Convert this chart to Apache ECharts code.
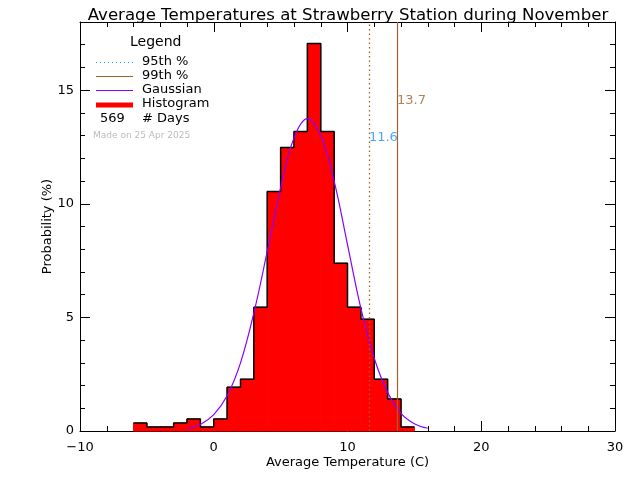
<!DOCTYPE html>
<html>
<head>
<meta charset="utf-8">
<script src="https://cdn.jsdelivr.net/npm/echarts@6/dist/echarts.min.js"></script>
<style>html,body{margin:0;padding:0;background:#fff}#c{width:640px;height:480px}</style>
</head>
<body>
<div id="c"></div>
<script>
// ---- data ----
const binStarts = [-6,-5,-4,-3,-2,-1,0,1,2,3,4,5,6,7,8,9,10,11,12,13,14];
const binWidth = 1;
const binPct = [0.35,0.18,0.18,0.35,0.53,0.18,0.53,1.93,2.28,5.45,10.54,12.48,13.18,17.05,13.18,7.38,5.45,4.92,2.28,1.41,0.18];
const gaussX = [-2,-1,0,1,2,3,4,5,6,7,8,9,10,11,12,13,14,15,16];
const gaussY = [0.11,0.29,0.72,1.55,3.0,5.2,7.9,10.7,12.9,13.75,13.0,11.0,8.2,5.4,3.2,1.7,0.78,0.32,0.12];
const p95 = 11.6;
const p99 = 13.7;
const nDays = 569;
const xTickLabels = [-10, 0, 10, 20, 30];
const yTickLabels = [0, 5, 10, 15];
const titleText = 'Average Temperatures at Strawberry Station during November';
const madeOn = 'Made on 25 Apr 2025';

const FONT = 'DejaVu Sans';
const BROWN = '#a0622a';
const BLUE = '#1e8fff';
const PURPLE = '#8a00ff';

const histData = binStarts.map((s, i) => [s, s + binWidth, binPct[i]]);
const outline = [];
binStarts.forEach((s, i) => { outline.push([s, binPct[i]]); outline.push([s + binWidth, binPct[i]]); });
const gauss = gaussX.map((x, i) => [x, gaussY[i]]);

const xMin = xTickLabels[0], xMax = xTickLabels[xTickLabels.length - 1];
const yMin = 0, yMax = 18;

const chart = echarts.init(document.getElementById('c'), null, {renderer: 'canvas'});

const baseX = {
  type: 'value', min: xMin, max: xMax, interval: 10,
  axisLine: {show: true, onZero: false, lineStyle: {color: '#000', width: 1}},
  axisTick: {show: true, inside: true, length: 10, lineStyle: {color: '#000'}},
  minorTick: {show: true, splitNumber: 5, length: 5, lineStyle: {color: '#000'}},
  splitLine: {show: false}
};
const baseY = {
  type: 'value', min: yMin, max: yMax, interval: 5,
  axisLine: {show: true, onZero: false, lineStyle: {color: '#000', width: 1}},
  axisTick: {show: true, inside: true, length: 10, lineStyle: {color: '#000'}},
  minorTick: {show: true, splitNumber: 5, length: 5, lineStyle: {color: '#000'}},
  splitLine: {show: false}
};

const legendRows = [
  {y: 62.5, text: '95th %', kind: 'dot'},
  {y: 76.5, text: '99th %', kind: 'brown'},
  {y: 90.5, text: 'Gaussian', kind: 'purple'},
  {y: 105, text: 'Histogram', kind: 'red'}
];
const graphics = [
  {type: 'text', left: 130, top: 35, style: {text: 'Legend', font: '14px "' + FONT + '"', fill: '#000'}}
];
legendRows.forEach(r => {
  let shape = {x1: 96, y1: r.y, x2: 133, y2: r.y};
  let style;
  if (r.kind === 'dot') style = {stroke: BLUE, lineWidth: 1, lineDash: [1, 3]};
  else if (r.kind === 'brown') style = {stroke: BROWN, lineWidth: 1};
  else if (r.kind === 'purple') style = {stroke: PURPLE, lineWidth: 1};
  else style = {stroke: '#ff0000', lineWidth: 5};
  graphics.push({type: 'line', shape: shape, style: style});
  graphics.push({type: 'text', left: 142, top: Math.round(r.y) - 8, style: {text: r.text, font: '13px "' + FONT + '"', fill: '#000'}});
});
graphics.push({type: 'text', left: 100, top: 112, style: {text: String(nDays), font: '13px "' + FONT + '"', fill: '#000'}});
graphics.push({type: 'text', left: 142, top: 112, style: {text: '# Days', font: '13px "' + FONT + '"', fill: '#000'}});
graphics.push({type: 'text', left: 93, top: 131, style: {text: madeOn, font: '9px "' + FONT + '"', fill: '#bbbbbb'}});

const option = {
  backgroundColor: '#fff',
  animation: false,
  title: {
    text: titleText, left: 343, top: 2, textAlign: 'center',
    textStyle: {fontFamily: FONT, fontSize: 16.6, fontWeight: 'normal', color: '#000'}
  },
  grid: {left: 80, right: 25, top: 22, bottom: 49, containLabel: false},
  xAxis: [
    Object.assign({}, baseX, {
      position: 'bottom',
      name: 'Average Temperature (C)', nameLocation: 'middle', nameGap: 25, nameMoveOverlap: false,
      nameTextStyle: {fontFamily: FONT, fontSize: 13, color: '#000'},
      axisLabel: {show: true, margin: 10, fontFamily: FONT, fontSize: 13, color: '#000',
        formatter: v => String(v).replace('-', '\u2212')}
    }),
    Object.assign({}, baseX, {position: 'top', axisLabel: {show: false}})
  ],
  yAxis: [
    Object.assign({}, baseY, {
      position: 'left',
      name: 'Probability (%)', nameLocation: 'middle', nameGap: 26, nameMoveOverlap: false,
      nameTextStyle: {fontFamily: FONT, fontSize: 13, color: '#000'},
      axisLabel: {show: true, margin: 6, fontFamily: FONT, fontSize: 13, color: '#000',
        showMaxLabel: false}
    }),
    Object.assign({}, baseY, {position: 'right', axisLabel: {show: false}})
  ],
  graphic: graphics,
  series: [
    {
      type: 'custom', name: 'Histogram', xAxisIndex: 0, yAxisIndex: 0, z: 1,
      data: histData,
      renderItem: function (params, api) {
        const p0 = api.coord([api.value(0), 0]);
        const p1 = api.coord([api.value(1), api.value(2)]);
        return {type: 'rect', shape: {x: p0[0], y: p1[1], width: p1[0] - p0[0], height: p0[1] - p1[1]},
          style: {fill: '#ff0000', stroke: '#ff0000', lineWidth: 1}};
      }
    },
    {
      type: 'line', name: 'outline', data: outline, symbol: 'none', z: 2,
      lineStyle: {color: '#000', width: 1.5}
    },
    {
      type: 'line', name: 'Gaussian', data: gauss, symbol: 'none', smooth: 0.4, z: 3,
      lineStyle: {color: PURPLE, width: 1.2}
    },
    {
      type: 'line', name: 'pct', data: [], z: 4,
      markLine: {
        symbol: 'none', silent: true, label: {show: false},
        data: [
          {xAxis: p95, lineStyle: {color: BROWN, type: [1.5, 3], width: 1.3, opacity: 1}},
          {xAxis: p99, lineStyle: {color: BROWN, type: 'solid', width: 1.2, opacity: 1}}
        ]
      }
    },
    {
      type: 'scatter', name: 'labels', symbolSize: 0, z: 5,
      data: [
        {value: [p99, 14.56], label: {formatter: p99.toFixed(1), color: BROWN}},
        {value: [p95, 12.9], label: {formatter: p95.toFixed(1), color: BLUE}}
      ],
      label: {show: true, position: 'right', distance: 0, fontFamily: FONT, fontSize: 13}
    }
  ]
};
chart.setOption(option);
</script>
</body>
</html>
